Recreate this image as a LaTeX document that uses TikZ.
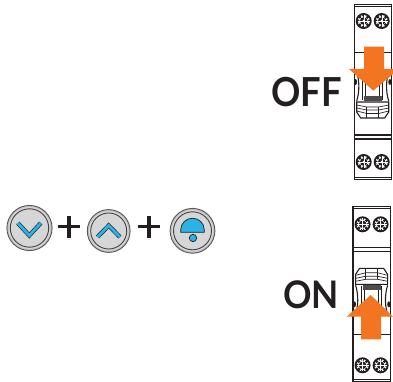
\documentclass[tikz,border=0pt]{standalone}
\usepackage{fontspec}
\setmainfont{Lato}
\definecolor{arrowor}{HTML}{F47521}
\definecolor{btnblue}{HTML}{2BB3E6}
\definecolor{btngray}{HTML}{D6D6D6}
\definecolor{ink}{HTML}{231F20}
\tikzset{
  bodyline/.style={draw=ink,line width=1.1pt},
  thinline/.style={draw=ink,line width=0.65pt},
  movearrow/.style={fill=arrowor,draw=none},
  bigtext/.style={text=ink,inner sep=0pt,transform shape},
  sign/.style={draw=ink,line width=3.4pt},
  glyph/.style={draw=ink,line width=0.7pt,fill=btnblue,line join=miter},
  pics/screw/.style={code={
    \fill[ink] (0,0) circle[radius=8];
    \fill[white] (0,0) circle[radius=6];
    \foreach \a in {0,45,...,315} {\fill[ink] (\a:5.4) circle[radius=1.6];}
    \fill[ink] (0,0) circle[radius=3.8];
    \fill[white] (0,0) circle[radius=1.4];
    \draw[white,line width=0.4pt] (-6,0) -- (6,0) (0,-6) -- (0,6);
  }},
  pics/breaker/.style={code={
    \draw[bodyline] (-18.6,-87.5) rectangle (18.6,87.5);
    \draw[thinline] (-18.6,-85.5) -- (18.6,-85.5) (-18.6,85.5) -- (18.6,85.5);
    \draw[bodyline] (-18.6,43) -- (18.6,43) (-18.6,47) -- (18.6,47);
    \draw[thinline] (-18.6,-40) -- (-9,-40) (9,-40) -- (18.6,-40);
    \pic at (-9,-71) {screw};
    \pic at (9,-71) {screw};
    \pic at (-9,70) {screw};
    \pic at (9,70) {screw};
    % cam and side arcs
    \draw[bodyline] (-17,-22) .. controls (-13,-14) and (-13,0) .. (-16,9);
    \draw[bodyline] (17,-22) .. controls (13,-14) and (13,0) .. (16,9);
    \fill[ink] (-17.2,-10) ellipse[x radius=1.6,y radius=3];
    \fill[ink] (17.2,-10) ellipse[x radius=1.6,y radius=3];
    \draw[thinline] (-10,-12) -- (-10,8) (-7,-12) -- (-7,8) (10,-12) -- (10,8) (7,-12) -- (7,8);
    \fill[ink!80] (-9,4) rectangle (9,9.5);
    % lever
    \draw[bodyline,fill=white] (-16,10) -- (16,10) -- (16,20) -- (12,26) -- (-12,26) -- (-16,20) -- cycle;
    \draw[thinline] (-16,13) -- (-6,15) -- (6,15) -- (16,13);
    \draw[thinline] (-16,16) -- (-6,18) -- (6,18) -- (16,16);
    \draw[thinline] (-16,19) -- (-6,21.5) -- (6,21.5) -- (16,19);
    \draw[thinline] (-6,15) -- (-6,26) (6,15) -- (6,26);
  }}
}
\begin{document}
\begin{tikzpicture}[x=1pt,y=-1pt]
\useasboundingbox (0,0) rectangle (393,382);
\fill[white] (0,0) rectangle (393,382);
% breakers
\pic at (372.7,92) {breaker};
\pic[yscale=-1] at (371.6,294.3) {breaker};
% arrows
\fill[movearrow] (364,46.7) -- (384,46.7) -- (384,69) -- (393,69) -- (393,74) -- (373.3,90.7) -- (349,69) -- (364,69) -- cycle;
\fill[movearrow] (361,339.3) -- (381,339.3) -- (381,316.7) -- (393,316.7) -- (370.7,295) -- (346.7,316.7) -- (361,316.7) -- cycle;
% texts
\node[bigtext,xscale=0.91,anchor=base east,font=\fontsize{40}{40}\selectfont\bfseries] (off) at (342,107) {OFF};
\node[bigtext,xscale=0.93,anchor=base east,font=\fontsize{38}{38}\selectfont\bfseries] (on) at (339,308) {ON};
% buttons
\foreach \nm/\cx/\cy/\r in {a/29.5/228/22.6,b/108.7/231/21.4,c/192.5/230.8/22.4} {
  \draw[ink!75,line width=0.9pt,fill=btngray!90!black] (\cx,\cy) circle[radius=\r];
  \draw[white!85!black,line width=0.9pt,fill=btngray] (\cx,\cy) circle[radius=\r-2.2];
  \draw[ink!85,line width=0.9pt,fill=btngray] (\cx,\cy) circle[radius=\r-3.4];
}
\draw[ink,line width=4.2pt,line join=miter] (17.8,223) -- (29.3,235.5) -- (40.8,223);
\draw[btnblue,line width=2.9pt,line join=miter] (17.8,223) -- (29.3,235.5) -- (40.8,223);
\draw[ink,line width=4.2pt,line join=miter] (97.5,237) -- (108.7,225.5) -- (119.9,237);
\draw[btnblue,line width=2.9pt,line join=miter] (97.5,237) -- (108.7,225.5) -- (119.9,237);
\draw[glyph] (180.7,232.3) -- (180.7,230) arc[start angle=180,end angle=360,radius=11.8] -- (204.3,232.3) -- cycle;
\draw[glyph] (193,238) circle[radius=3.7];
% plus signs
\draw[sign] (58,226.7) -- (80,226.7) (69,215.5) -- (69,238);
\draw[sign] (138,226.7) -- (160,226.7) (149,215.5) -- (149,238);
\end{tikzpicture}
\end{document}
